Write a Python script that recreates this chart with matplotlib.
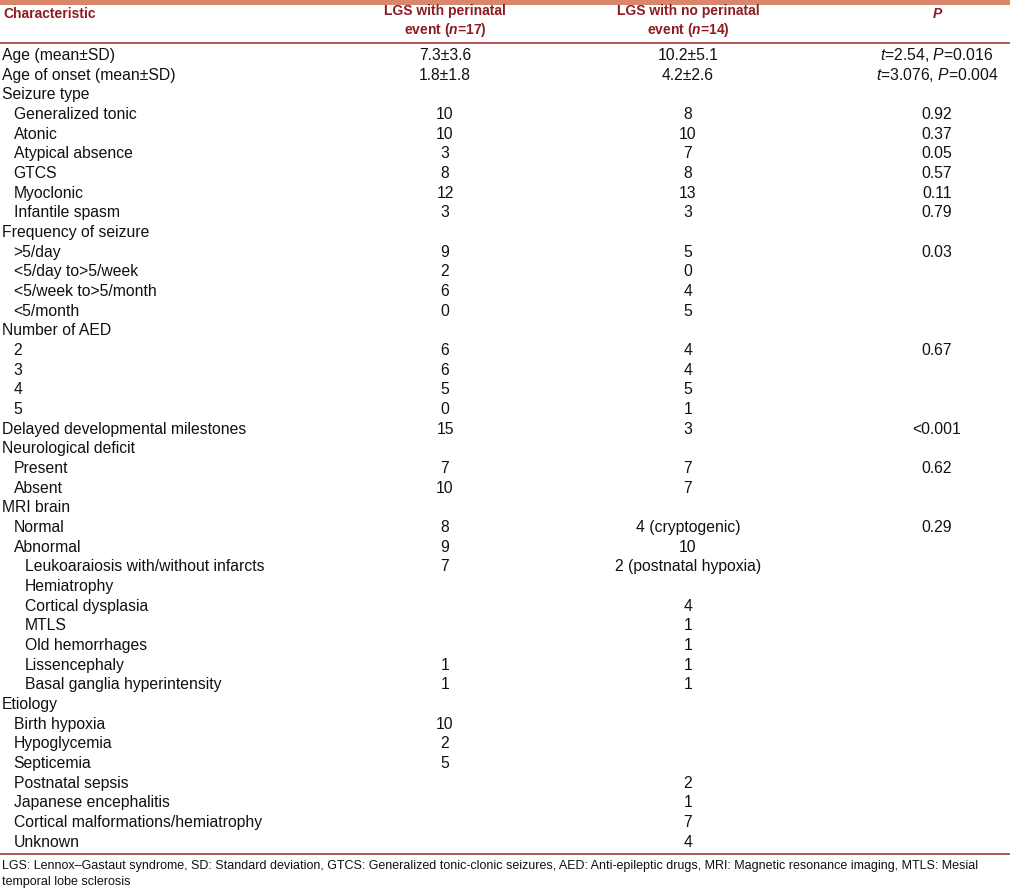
import matplotlib
matplotlib.use("Agg")
import matplotlib.pyplot as plt
from matplotlib import font_manager

plt.rcParams['font.family'] = ['Liberation Sans', 'DejaVu Sans']
plt.rcParams['mathtext.fontset'] = 'custom'
plt.rcParams['mathtext.rm'] = 'Liberation Sans'
plt.rcParams['mathtext.it'] = 'Liberation Sans:italic'
plt.rcParams['mathtext.bf'] = 'Liberation Sans:italic:bold'

# table contents
headers = ["Characteristic",
           "LGS with perinatal\nevent ($\\mathbf{n}$=17)",
           "LGS with no perinatal\nevent ($\\mathbf{n}$=14)",
           "P"]

labels = ["Age (mean±SD)", "Age of onset (mean±SD)", "Seizure type",
          "Generalized tonic", "Atonic", "Atypical absence", "GTCS", "Myoclonic",
          "Infantile spasm", "Frequency of seizure", ">5/day", "<5/day to>5/week",
          "<5/week to>5/month", "<5/month", "Number of AED", "2", "3", "4", "5",
          "Delayed developmental milestones", "Neurological deficit", "Present",
          "Absent", "MRI brain", "Normal", "Abnormal",
          "Leukoaraiosis with/without infarcts", "Hemiatrophy", "Cortical dysplasia",
          "MTLS", "Old hemorrhages", "Lissencephaly", "Basal ganglia hyperintensity",
          "Etiology", "Birth hypoxia", "Hypoglycemia", "Septicemia",
          "Postnatal sepsis", "Japanese encephalitis",
          "Cortical malformations/hemiatrophy", "Unknown"]

indent = [0, 0, 0, 1, 1, 1, 1, 1, 1, 0, 1, 1, 1, 1, 0, 1, 1, 1, 1, 0, 0, 1, 1,
          0, 1, 1, 2, 2, 2, 2, 2, 2, 2, 0, 1, 1, 1, 1, 1, 1, 1]

perinatal = ["7.3±3.6", "1.8±1.8", "", "10", "10", "3", "8", "12", "3", "",
             "9", "2", "6", "0", "", "6", "6", "5", "0", "15", "", "7", "10",
             "", "8", "9", "7", "", "", "", "", "1", "1", "", "10", "2", "5",
             "", "", "", ""]

no_perinatal = ["10.2±5.1", "4.2±2.6", "", "8", "10", "7", "8", "13", "3", "",
                "5", "0", "4", "5", "", "4", "4", "5", "1", "3", "", "7", "7",
                "", "4 (cryptogenic)", "10", "2 (postnatal hypoxia)", "", "4",
                "1", "1", "1", "1", "", "", "", "", "2", "1", "7", "4"]

p_values = ["$\\mathit{t}$=2.54, $\\mathit{P}$=0.016",
            "$\\mathit{t}$=3.076, $\\mathit{P}$=0.004", "",
            "0.92", "0.37", "0.05", "0.57", "0.11", "0.79", "",
            "0.03", "", "", "", "", "0.67", "", "", "", "<0.001", "", "0.62", "",
            "", "0.29", "", "", "", "", "", "", "", "", "", "", "", "", "", "",
            "", ""]

footnote = ("LGS: Lennox–Gastaut syndrome, SD: Standard deviation, GTCS: Generalized "
            "tonic-clonic seizures, AED: Anti-epileptic drugs, MRI: Magnetic resonance "
            "imaging, MTLS: Mesial\ntemporal lobe sclerosis")

head_color = '#8e1b22'
line_color = '#a33a35'
bar_color = '#d9866c'

fig = plt.figure(figsize=(10.10, 8.91), dpi=100)
ax = fig.add_axes([0, 0, 1, 1])
ax.set_xlim(0, 1010)
ax.set_ylim(891, 0)
ax.axis('off')

# top band and rules
ax.axhspan(0, 4.5, color=bar_color, lw=0)
ax.axhline(42.5, color=line_color, lw=1.2)
ax.axhline(853.5, color=line_color, lw=1.2)

col_x = [445, 688, 937]
body_fs = 11.3
head_fs = 10.0

ax.text(3, 14.5, headers[0], color=head_color, fontsize=head_fs, fontweight='bold',
        ha='left', va='center')
for x, h in zip(col_x[:2], headers[1:3]):
    ax.text(x, 21.5, h, color=head_color, fontsize=head_fs, fontweight='bold',
            ha='center', va='center', linespacing=1.3)
ax.text(col_x[2], 14.5, headers[3], color=head_color, fontsize=head_fs,
        fontweight='bold', fontstyle='italic', ha='center', va='center')

y0, dy = 55.5, 19.67
for i, lab in enumerate(labels):
    y = y0 + i * dy
    ax.text(2 + indent[i] * 11.5, y, lab, fontsize=body_fs, ha='left', va='center',
            color='#111111')
    for x, val in zip(col_x, (perinatal[i], no_perinatal[i], p_values[i])):
        if val:
            ax.text(x, y, val, fontsize=body_fs, ha='center', va='center',
                    color='#111111')

narrow = [f for f in ['Liberation Sans Narrow', 'Arial Narrow']
          if any(f == e.name for e in font_manager.fontManager.ttflist)]
ax.text(2, 874, footnote, fontsize=9.0, ha='left', va='center', linespacing=1.35,
        family=narrow + ['Liberation Sans'], color='#111111')

fig.savefig('out.png', dpi=100)
